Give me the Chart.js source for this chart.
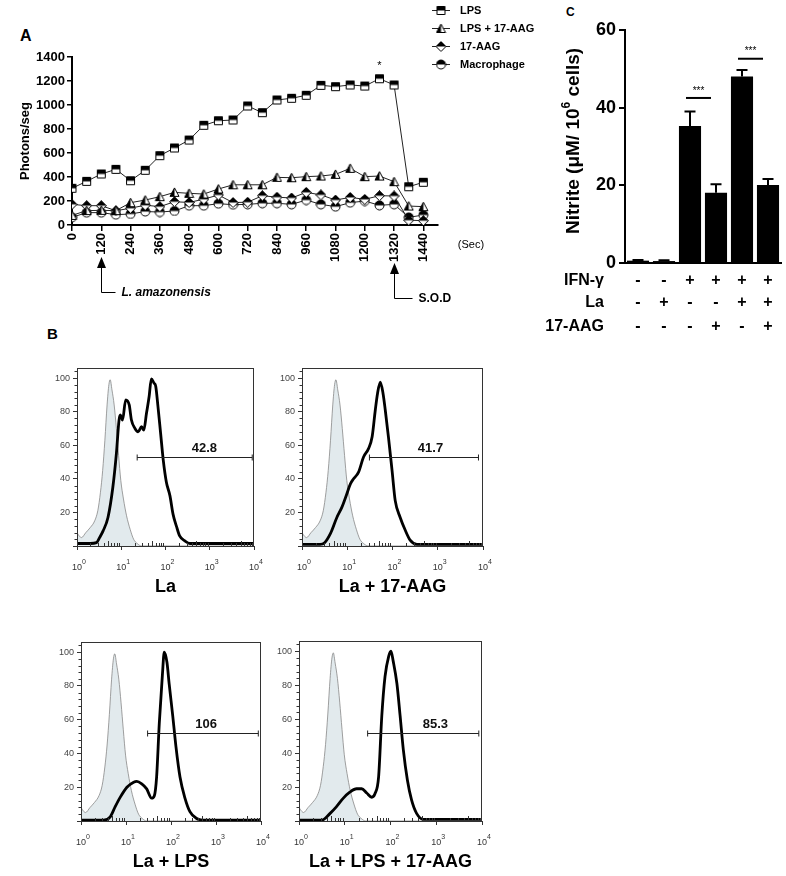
<!DOCTYPE html>
<html>
<head>
<meta charset="utf-8">
<script src="https://cdn.jsdelivr.net/npm/chart.js@4.4.1/dist/chart.umd.min.js"></script>
<style>
  body { margin: 0; background: #fff; width: 786px; height: 876px; position: relative; overflow: hidden; }
  canvas { position: absolute; }
  .panel { position: absolute; font: bold 16px "Liberation Sans", Arial, sans-serif; line-height: 16px; }
</style>
</head>
<body>
<div class="panel" style="left:20px;top:28px">A</div>
<div class="panel" style="left:47px;top:326px;font-size:15px">B</div>
<div class="panel" style="left:566px;top:4px;font-size:12px">C</div>
<canvas id="chartA" width="560" height="320" style="left:0;top:0"></canvas>
<canvas id="chartC" width="256" height="345" style="left:530px;top:0"></canvas>
<script>
const FONT = '"Liberation Sans", Arial, sans-serif';
Chart.defaults.font.family = FONT;
Chart.defaults.color = '#000';

// ---------- A: chemiluminescence time course ----------
const times = [0, 60, 120, 180, 240, 300, 360, 420, 480, 540, 600, 660, 720, 780, 840, 900, 960, 1020, 1080, 1140, 1200, 1260, 1320, 1380, 1440];
const lps = [306, 364, 425, 464, 369, 456, 578, 642, 708, 831, 869, 875, 992, 936, 1042, 1056, 1081, 1164, 1153, 1167, 1158, 1219, 1167, 319, 356];
const lpsAag = [80, 120, 122, 120, 186, 208, 236, 272, 264, 258, 300, 335, 335, 335, 397, 394, 403, 408, 422, 472, 403, 408, 361, 158, 153];
const aag = [172, 161, 161, 119, 140, 165, 153, 194, 188, 215, 250, 187, 190, 244, 232, 225, 272, 251, 208, 230, 214, 244, 242, 40, 36];
const macrophage = [64, 103, 103, 86, 92, 112, 108, 117, 161, 161, 178, 169, 172, 181, 181, 172, 208, 172, 153, 186, 200, 164, 172, 64, 83];
const secTicks = [0, 120, 240, 360, 480, 600, 720, 840, 960, 1080, 1200, 1320, 1440];
const photonTicks = [0, 200, 400, 600, 800, 1000, 1200, 1400];
const legendA = ['LPS', 'LPS + 17-AAG', '17-AAG', 'Macrophage'];

// ---------- C: nitrite ----------
const nitriteGroups = ['g1', 'g2', 'g3', 'g4', 'g5', 'g6'];
const nitrite = [0.6, 0.5, 35.3, 18.1, 48.0, 20.1];
const nitriteSem = [0.2, 0.2, 3.7, 2.2, 1.7, 1.5];
const ifnRow = ['-', '-', '+', '+', '+', '+'];
const laRow = ['-', '+', '-', '-', '+', '+'];
const aagRow = ['-', '-', '-', '+', '-', '+'];
const sigFrom = [2, 4];
const sigTo = [3, 5];
const sigLevel = [42.5, 52.6];
const nitriteTicks = [0, 20, 40, 60];

// ---------- B: flow histograms (x in log10 decades, y in % of max) ----------
const ctrlHist = [[0, 8], [0.05, 6], [0.1, 5], [0.2, 8], [0.3, 11], [0.4, 15], [0.47, 21], [0.53, 32], [0.58, 45], [0.63, 63], [0.68, 84], [0.72, 96], [0.75, 99], [0.79, 93], [0.84, 84], [0.89, 70], [0.94, 54], [0.99, 39], [1.05, 28], [1.12, 18], [1.2, 10], [1.28, 4], [1.36, 1.5], [1.46, 0], [4, 0]];
const laHist = [[0, 1.5], [0.3, 1.5], [0.44, 2], [0.51, 5], [0.59, 9], [0.7, 17], [0.81, 35], [0.89, 55], [0.95, 75], [0.98, 78], [1.03, 75], [1.1, 87], [1.18, 84], [1.23, 75], [1.31, 70], [1.38, 68], [1.46, 71], [1.51, 69], [1.57, 79], [1.63, 89], [1.68, 99.5], [1.74, 97], [1.78, 95], [1.83, 83], [1.89, 67], [1.95, 51], [2.02, 38], [2.1, 30], [2.17, 19], [2.25, 11.5], [2.32, 6], [2.44, 3], [2.55, 1.5], [4, 1.5]];
const laAagHist = [[0, 1], [0.4, 1], [0.5, 2], [0.63, 7.5], [0.77, 17], [0.88, 23], [0.99, 31], [1.07, 37], [1.14, 40], [1.25, 44], [1.36, 53], [1.47, 58], [1.55, 65], [1.62, 81], [1.67, 91], [1.73, 97.5], [1.79, 91], [1.84, 81], [1.91, 65], [1.99, 45], [2.06, 27], [2.17, 17], [2.28, 9.5], [2.39, 3.5], [2.54, 1], [4, 1]];
const laLpsHist = [[0, 0.5], [0.5, 0.5], [0.65, 2.5], [0.76, 8.5], [0.87, 14], [1.02, 20], [1.17, 23], [1.24, 23.5], [1.35, 22], [1.46, 19], [1.57, 13.5], [1.63, 15], [1.68, 26], [1.74, 58], [1.81, 87], [1.85, 100], [1.91, 94], [1.96, 81], [2.04, 62], [2.11, 44], [2.2, 26], [2.31, 13.5], [2.42, 5.5], [2.57, 1.5], [2.7, 0.5], [4, 0.5]];
const laLpsAagHist = [[0, 0.5], [0.5, 0.5], [0.68, 4.5], [0.82, 8.5], [0.97, 13.5], [1.11, 17], [1.26, 19], [1.37, 19], [1.48, 16.5], [1.59, 14], [1.66, 16], [1.74, 26], [1.81, 62], [1.88, 85], [1.96, 97], [2.01, 100], [2.06, 94], [2.14, 81], [2.21, 62], [2.28, 42], [2.37, 24], [2.46, 12.4], [2.57, 4.5], [2.72, 1], [4, 1]];
const histTitles = ['La', 'La + 17-AAG', 'La + LPS', 'La + LPS + 17-AAG'];
const gatePct = ['42.8', '41.7', '106', '85.3'];
const gateFrom = [1.36, 1.49, 1.48, 1.5];
const gateTo = [3.96, 3.9, 3.94, 3.93];
const gateLevel = [53, 53, 52, 52];
const gateLabelAt = [2.88, 2.84, 2.78, 2.98];
const decadeTicks = [0, 1, 2, 3, 4];
const pctTicks = [0, 20, 40, 60, 80, 100];

// half filled marker drawn once, used as pointStyle
function marker(shape) {
  const w = 11, m = 5.5, r = 4.5;
  const c = document.createElement('canvas');
  c.width = c.height = w;
  const g = c.getContext('2d');
  const path = () => {
    g.beginPath();
    if (shape === 'square') g.rect(1.5, 1.5, 8, 8);
    else if (shape === 'triangle') { g.moveTo(m, 1); g.lineTo(10, 9.5); g.lineTo(1, 9.5); g.closePath(); }
    else if (shape === 'diamond') { g.moveTo(m, 0.5); g.lineTo(10.5, m); g.lineTo(m, 10.5); g.lineTo(0.5, m); g.closePath(); }
    else g.arc(m, m, r, 0, Math.PI * 2);
  };
  path(); g.fillStyle = '#fff'; g.fill();
  g.save();
  g.beginPath();
  if (shape === 'triangle') g.rect(0, 0, m, w); else g.rect(0, 0, w, m);
  g.clip();
  path(); g.fillStyle = '#000'; g.fill();
  g.restore();
  path(); g.lineWidth = 1; g.strokeStyle = '#000'; g.stroke();
  return c;
}
const markersA = [marker('square'), marker('triangle'), marker('diamond'), marker('circle')];
const seriesA = [lps, lpsAag, aag, macrophage];

const decorA = {
  id: 'decorA',
  afterDraw(chart) {
    const { ctx, scales: { x, y } } = chart;
    ctx.save();
    // y title
    ctx.save();
    ctx.translate(25, 141);
    ctx.rotate(-Math.PI / 2);
    ctx.font = 'bold 13px ' + FONT;
    ctx.textAlign = 'center';
    ctx.textBaseline = 'middle';
    ctx.fillText('Photons/seg', 0, 0);
    ctx.restore();

    ctx.font = '11px ' + FONT;
    ctx.textAlign = 'center';
    ctx.textBaseline = 'middle';
    ctx.fillText('(Sec)', 471, 245);

    // asterisk over the LPS peak
    ctx.font = '11px ' + FONT;
    ctx.fillText('*', x.getPixelForValue(1260), y.getPixelForValue(lps[21]) - 13);

    // arrows for infection and S.O.D
    const arrow = (t, headTop, lineEnd, tail, label, font) => {
      const px = Math.round(x.getPixelForValue(t)) + 0.5;
      ctx.fillStyle = '#000';
      ctx.beginPath();
      ctx.moveTo(px, headTop); ctx.lineTo(px + 4.5, headTop + 11); ctx.lineTo(px - 4.5, headTop + 11); ctx.closePath();
      ctx.fill();
      ctx.strokeStyle = '#000'; ctx.lineWidth = 1;
      ctx.beginPath();
      ctx.moveTo(px, headTop + 10); ctx.lineTo(px, lineEnd + 0.5); ctx.lineTo(px + tail, lineEnd + 0.5);
      ctx.stroke();
      ctx.font = font;
      ctx.textAlign = 'left';
      ctx.textBaseline = 'middle';
      ctx.fillText(label, px + tail + 6, lineEnd + 1);
    };
    arrow(120, 257, 292, 14, 'L. amazonensis', 'italic bold 12px ' + FONT);
    arrow(1320, 263, 298, 18, 'S.O.D', 'bold 12px ' + FONT);

    // legend
    const rows = [10, 28, 46, 64];
    legendA.forEach((lab, i) => {
      ctx.strokeStyle = '#222'; ctx.lineWidth = 1;
      ctx.beginPath(); ctx.moveTo(432, rows[i] + 0.5); ctx.lineTo(450, rows[i] + 0.5); ctx.stroke();
      ctx.drawImage(markersA[i], 441 - 5.5, rows[i] - 5);
      ctx.font = 'bold 11px ' + FONT;
      ctx.fillStyle = '#000';
      ctx.textAlign = 'left';
      ctx.textBaseline = 'middle';
      ctx.fillText(lab, 460, rows[i] + 1);
    });
    ctx.restore();
  }
};

new Chart(document.getElementById('chartA'), {
  type: 'line',
  data: {
    datasets: seriesA.map((vals, k) => ({
      label: legendA[k],
      data: times.map((t, i) => ({ x: t, y: vals[i] })),
      borderColor: '#222',
      borderWidth: 1,
      pointStyle: markersA[k],
      pointRadius: 5,
      tension: 0
    }))
  },
  options: {
    responsive: false,
    animation: false,
    devicePixelRatio: 1,
    layout: { padding: { top: 57, right: 122, left: 0, bottom: 0 } },
    plugins: { legend: { display: false }, tooltip: { enabled: false } },
    scales: {
      x: {
        type: 'linear', min: 0, max: 1500,
        afterBuildTicks: s => { s.ticks = secTicks.map(v => ({ value: v })); },
        afterFit: s => { s.height = 95; },
        ticks: { minRotation: 90, maxRotation: 90, autoSkip: false, padding: 2, color: '#000', font: { size: 13, weight: 'bold' }, callback: v => String(v) },
        grid: { drawOnChartArea: false, tickLength: 6, color: '#000', lineWidth: 1.5 },
        border: { color: '#000', width: 2 }
      },
      y: {
        min: 0, max: 1400,
        afterBuildTicks: s => { s.ticks = photonTicks.map(v => ({ value: v })); },
        afterFit: s => { s.width = 72; },
        ticks: { padding: 2, color: '#000', font: { size: 13, weight: 'bold' }, callback: v => String(v) },
        grid: { drawOnChartArea: false, tickLength: 5, color: '#000', lineWidth: 1.5 },
        border: { color: '#000', width: 2 }
      }
    }
  },
  plugins: [decorA]
});

// ---------- C ----------
const decorC = {
  id: 'decorC',
  afterDatasetsDraw(chart) {
    const { ctx, scales: { y } } = chart;
    const bars = chart.getDatasetMeta(0).data;
    ctx.save();
    ctx.strokeStyle = '#000';
    ctx.lineWidth = 2;
    bars.forEach((b, i) => {
      const top = y.getPixelForValue(nitrite[i] + nitriteSem[i]);
      ctx.beginPath();
      ctx.moveTo(b.x, b.y); ctx.lineTo(b.x, top);
      ctx.moveTo(b.x - 5.5, top); ctx.lineTo(b.x + 5.5, top);
      ctx.stroke();
    });
    sigFrom.forEach((i, k) => {
      const ly = y.getPixelForValue(sigLevel[k]);
      const x0 = bars[i].x - 4, x1 = bars[sigTo[k]].x - 5;
      ctx.beginPath(); ctx.moveTo(x0, ly); ctx.lineTo(x1, ly); ctx.stroke();
      ctx.font = '10px ' + FONT;
      ctx.fillStyle = '#000';
      ctx.textAlign = 'center';
      ctx.textBaseline = 'middle';
      ctx.fillText('***', (x0 + x1) / 2, ly - 7);
    });
    // treatment table
    const rows = [[ifnRow, 'IFN-γ', 281], [laRow, 'La', 303], [aagRow, '17-AAG', 327]];
    rows.forEach(([signs, lab, ry]) => {
      ctx.font = 'bold 16px ' + FONT;
      ctx.textAlign = 'right';
      ctx.textBaseline = 'middle';
      ctx.fillText(lab, 74, ry);
      ctx.textAlign = 'center';
      signs.forEach((s, i) => ctx.fillText(s, bars[i].x, ry));
    });
    // y title with superscript
    ctx.translate(44, 141);
    ctx.rotate(-Math.PI / 2);
    const big = 'bold 19px ' + FONT, small = 'bold 12px ' + FONT;
    const parts = [['Nitrite (μM/ 10', big, 0], ['6', small, -7], [' cells)', big, 0]];
    let total = 0;
    parts.forEach(p => { ctx.font = p[1]; total += ctx.measureText(p[0]).width; });
    let cx = -total / 2;
    ctx.textAlign = 'left';
    ctx.textBaseline = 'middle';
    parts.forEach(p => { ctx.font = p[1]; ctx.fillText(p[0], cx, p[2]); cx += ctx.measureText(p[0]).width; });
    ctx.restore();
  }
};

new Chart(document.getElementById('chartC'), {
  type: 'bar',
  data: {
    labels: nitriteGroups,
    datasets: [{ data: nitrite, backgroundColor: '#000', barPercentage: 0.85, categoryPercentage: 1 }]
  },
  options: {
    responsive: false,
    animation: false,
    devicePixelRatio: 1,
    layout: { padding: { top: 30, right: 5, left: 0, bottom: 0 } },
    plugins: { legend: { display: false }, tooltip: { enabled: false } },
    scales: {
      x: {
        afterFit: s => { s.height = 82; },
        ticks: { display: false },
        grid: { display: false },
        border: { color: '#000', width: 2 }
      },
      y: {
        min: 0, max: 60,
        afterBuildTicks: s => { s.ticks = nitriteTicks.map(v => ({ value: v })); },
        afterFit: s => { s.width = 95; },
        ticks: { padding: 3, color: '#000', font: { size: 18, weight: 'bold' } },
        grid: { drawOnChartArea: false, tickLength: 6, color: '#000', lineWidth: 2 },
        border: { color: '#000', width: 2 }
      }
    }
  },
  plugins: [decorC]
});

// ---------- B ----------
const histSamples = [laHist, laAagHist, laLpsHist, laLpsAagHist];
const histBoxes = [[77, 368, 254, 546], [302, 368, 483, 546], [81, 642, 261, 821], [299, 641, 482, 821]];

function histDecor(i) {
  return {
    id: 'histDecor' + i,
    afterDraw(chart) {
      const { ctx, chartArea: a, scales: { x, y } } = chart;
      ctx.save();
      ctx.strokeStyle = '#333';
      ctx.lineWidth = 1;
      ctx.strokeRect(a.left + 0.5, a.top + 0.5, a.right - a.left - 1, a.bottom - a.top);
      ctx.beginPath();
      for (let d = 0; d < 4; d++) {
        for (let k = 2; k < 10; k++) {
          const px = Math.round(x.getPixelForValue(d + Math.log10(k))) + 0.5;
          ctx.moveTo(px, a.bottom); ctx.lineTo(px, a.bottom - (k === 5 ? 5 : 3));
        }
      }
      for (let v = 4; v < 106; v += 4) {
        if (v % 20 === 0) continue;
        const py = Math.round(y.getPixelForValue(v)) + 0.5;
        ctx.moveTo(a.left, py); ctx.lineTo(a.left - 2.5, py);
      }
      ctx.stroke();
      ctx.fillStyle = '#333';
      decadeTicks.forEach(d => {
        const px = x.getPixelForValue(d);
        ctx.font = '9px ' + FONT;
        ctx.textAlign = 'center';
        ctx.textBaseline = 'alphabetic';
        ctx.fillText('10', px, a.bottom + 24);
        ctx.font = '7px ' + FONT;
        ctx.textAlign = 'left';
        ctx.fillText(String(d), px + 5, a.bottom + 18);
      });
      // gate marker
      const gy = Math.round(y.getPixelForValue(gateLevel[i])) + 0.5;
      const g0 = x.getPixelForValue(gateFrom[i]), g1 = x.getPixelForValue(gateTo[i]);
      ctx.strokeStyle = '#222';
      ctx.beginPath();
      ctx.moveTo(g0, gy); ctx.lineTo(g1, gy);
      ctx.moveTo(g0, gy - 3); ctx.lineTo(g0, gy + 3);
      ctx.moveTo(g1, gy - 3); ctx.lineTo(g1, gy + 3);
      ctx.stroke();
      ctx.font = 'bold 13px ' + FONT;
      ctx.fillStyle = '#111';
      ctx.textAlign = 'center';
      ctx.textBaseline = 'bottom';
      ctx.fillText(gatePct[i], x.getPixelForValue(gateLabelAt[i]), gy - 3);
      ctx.font = 'bold 18px ' + FONT;
      ctx.fillStyle = '#000';
      ctx.textBaseline = 'middle';
      ctx.fillText(histTitles[i], (a.left + a.right) / 2, a.bottom + 41);
      ctx.restore();
    }
  };
}

histSamples.forEach((sample, i) => {
  const [x0, y0, x1, y1] = histBoxes[i];
  const cv = document.createElement('canvas');
  cv.width = x1 - x0 + 55;
  cv.height = y1 - y0 + 68;
  cv.style.left = (x0 - 45) + 'px';
  cv.style.top = (y0 - 10) + 'px';
  document.body.appendChild(cv);
  new Chart(cv, {
    type: 'line',
    data: {
      datasets: [
        { data: sample.map(([x, y]) => ({ x, y })), borderColor: '#000', borderWidth: 2.8, pointRadius: 0, cubicInterpolationMode: 'monotone', fill: false },
        { data: ctrlHist.map(([x, y]) => ({ x, y })), borderColor: '#888', borderWidth: 0.8, backgroundColor: '#e2eaed', pointRadius: 0, cubicInterpolationMode: 'monotone', fill: 'origin' }
      ]
    },
    options: {
      responsive: false,
      animation: false,
      devicePixelRatio: 1,
      layout: { padding: { top: 10, right: 10, left: 0, bottom: 0 } },
      plugins: { legend: { display: false }, tooltip: { enabled: false } },
      scales: {
        x: {
          type: 'linear', min: 0, max: 4,
          afterBuildTicks: s => { s.ticks = decadeTicks.map(v => ({ value: v })); },
          afterFit: s => { s.height = 58; },
          ticks: { display: false },
          grid: { drawOnChartArea: false, tickLength: 4, color: '#333' },
          border: { color: '#333', width: 1 }
        },
        y: {
          min: 0, max: 106,
          afterBuildTicks: s => { s.ticks = pctTicks.map(v => ({ value: v })); },
          afterFit: s => { s.width = 45; },
          ticks: { padding: 3, color: '#444', font: { size: 9 }, callback: v => (v === 0 ? '' : String(v)) },
          grid: { drawOnChartArea: false, tickLength: 4, color: '#333' },
          border: { color: '#333', width: 1 }
        }
      }
    },
    plugins: [histDecor(i)]
  });
});
</script>
</body>
</html>
